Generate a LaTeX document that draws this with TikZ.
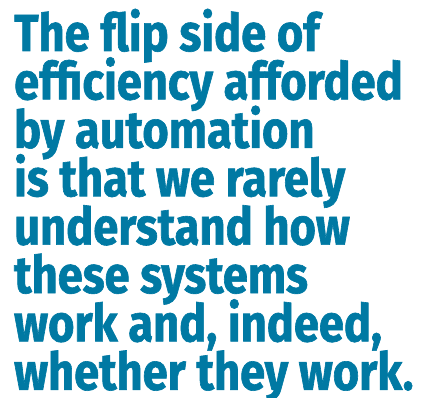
\documentclass[tikz,border=0pt]{standalone}
\usepackage{fontspec}
\setmainfont{Fira Sans}[BoldFeatures={FakeStretch=0.87, FakeBold=1.2}]
\usepackage{tikz}
\definecolor{quoteblue}{HTML}{0079A3}
\tikzset{quoteline/.style={anchor=base west, inner sep=0pt, text=quoteblue,
    font=\fontsize{52}{52}\selectfont\bfseries}}

\begin{document}
\begin{tikzpicture}[x=1pt, y=1pt]
    \useasboundingbox (0,0) rectangle (427,397);
    \node [quoteline] (l1) at (14, 346) {The flip side of};
    \node [quoteline] (l2) at (14, 297.6) {efficiency afforded};
    \node [quoteline] (l3) at (14, 249.2) {by automation};
    \node [quoteline] (l4) at (14, 200.8) {is that we rarely};
    \node [quoteline] (l5) at (14, 152.4) {understand how};
    \node [quoteline] (l6) at (14, 104) {these systems};
    \node [quoteline] (l7) at (14, 55.6) {work and, indeed,};
    \node [quoteline] (l8) at (14, 7.2) {whether they work.};
\end{tikzpicture}
\end{document}
